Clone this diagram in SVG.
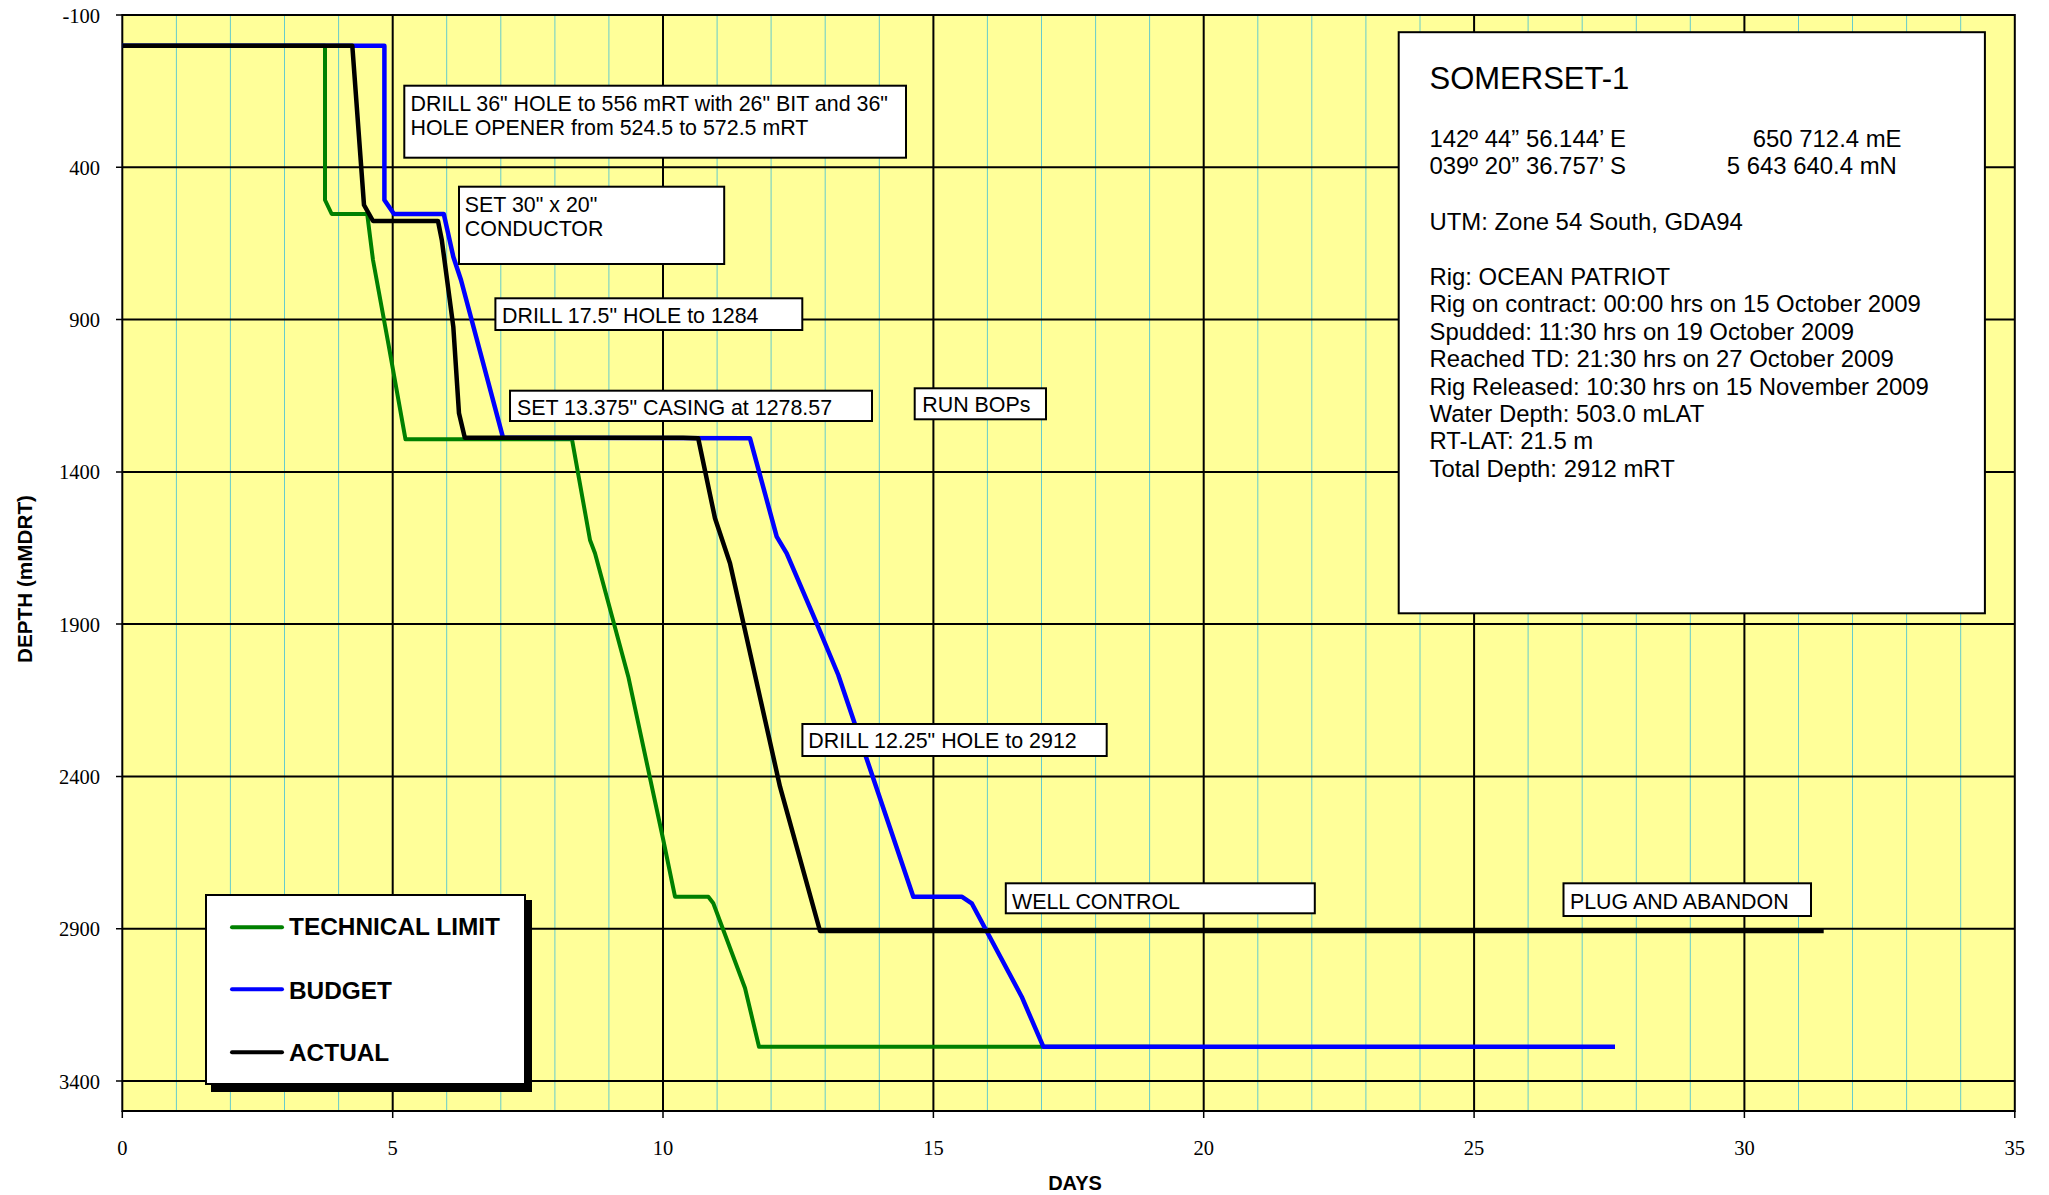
<svg xmlns="http://www.w3.org/2000/svg" width="2049" height="1195" viewBox="0 0 2049 1195">
<style>
.minor{stroke:#66cccc;stroke-width:1}
.major{stroke:#000;stroke-width:2}
.tick{stroke:#000;stroke-width:1.5}
.ylab{font-family:"Liberation Serif","Times New Roman",serif;font-size:20.5px;fill:#000;text-anchor:end}
.xlab{font-family:"Liberation Serif","Times New Roman",serif;font-size:20.5px;fill:#000;text-anchor:middle}
.title{font-family:"Liberation Sans",Arial,sans-serif;font-weight:bold;font-size:20px;fill:#000}
.box{fill:#fff;stroke:#000;stroke-width:2}
.lbl{font-family:"Liberation Sans",Arial,sans-serif;font-size:21.4px;fill:#000}
.info{font-family:"Liberation Sans",Arial,sans-serif;font-size:23.9px;fill:#000}
.big{font-size:31px}
.leg{font-family:"Liberation Sans",Arial,sans-serif;font-weight:bold;font-size:24.4px;fill:#000}
.curve{fill:none;stroke-linejoin:round;stroke-linecap:butt}
</style>
<rect width="2049" height="1195" fill="#fff"/>
<g id="plot-area">
<rect x="122.3" y="15" width="1892.5" height="1096" fill="#ffff99"/>
<g id="minor-grid">
<path class="minor" d="M176.4,15V1111M230.4,15V1111M284.5,15V1111M338.6,15V1111M446.7,15V1111M500.8,15V1111M554.9,15V1111M608.9,15V1111M717.1,15V1111M771.1,15V1111M825.2,15V1111M879.3,15V1111M987.4,15V1111M1041.5,15V1111M1095.6,15V1111M1149.6,15V1111M1257.8,15V1111M1311.8,15V1111M1365.9,15V1111M1420,15V1111M1528.1,15V1111M1582.2,15V1111M1636.3,15V1111M1690.3,15V1111M1798.5,15V1111M1852.5,15V1111M1906.6,15V1111M1960.7,15V1111"/>
</g>
<g id="major-grid">
<path class="major" d="M392.7,15V1111M663,15V1111M933.4,15V1111M1203.7,15V1111M1474.1,15V1111M1744.4,15V1111"/>
<path class="major" d="M122.3,167.3H2014.8M122.3,319.6H2014.8M122.3,471.9H2014.8M122.3,624.1H2014.8M122.3,776.4H2014.8M122.3,928.7H2014.8M122.3,1081H2014.8"/>
</g>
<rect x="122.3" y="15" width="1892.5" height="1096" fill="none" stroke="#000" stroke-width="2"/>
</g>
<g id="axes">
<path class="tick" d="M116,15H122.3M116,167.3H122.3M116,319.6H122.3M116,471.9H122.3M116,624.1H122.3M116,776.4H122.3M116,928.7H122.3M116,1081H122.3"/>
<path class="tick" d="M122.3,1111V1118M392.7,1111V1118M663,1111V1118M933.4,1111V1118M1203.7,1111V1118M1474.1,1111V1118M1744.4,1111V1118M2014.8,1111V1118"/>
<text class="ylab" x="100" y="22.5">-100</text>
<text class="ylab" x="100" y="174.8">400</text>
<text class="ylab" x="100" y="327.1">900</text>
<text class="ylab" x="100" y="479.4">1400</text>
<text class="ylab" x="100" y="631.6">1900</text>
<text class="ylab" x="100" y="783.9">2400</text>
<text class="ylab" x="100" y="936.2">2900</text>
<text class="ylab" x="100" y="1088.5">3400</text>
<text class="xlab" x="122.3" y="1155">0</text>
<text class="xlab" x="392.7" y="1155">5</text>
<text class="xlab" x="663" y="1155">10</text>
<text class="xlab" x="933.4" y="1155">15</text>
<text class="xlab" x="1203.7" y="1155">20</text>
<text class="xlab" x="1474.1" y="1155">25</text>
<text class="xlab" x="1744.4" y="1155">30</text>
<text class="xlab" x="2014.8" y="1155">35</text>
<text class="title" x="1075" y="1190" text-anchor="middle">DAYS</text>
<text class="title" transform="translate(32,579) rotate(-90)" text-anchor="middle" textLength="168" lengthAdjust="spacingAndGlyphs">DEPTH (mMDRT)</text>
</g>
<g id="connectors">
<path id="technical-limit" class="curve" stroke="#008000" stroke-width="4" d="M122.3,45.7 L325,45.7 L325,200 L331.7,214 L367.2,214 L373,260 L388.3,343.3 L405.5,439.3 L572,439.3 L590,540 L595,553.3 L628.3,676.7 L663.3,840 L675,896.7 L708.3,896.7 L713.3,903.3 L745,988 L759,1046.7 L1180,1046.7"/>
<path id="budget" class="curve" stroke="#0000ff" stroke-width="4.5" d="M122.3,45.7 L384.4,45.7 L384.4,200 L394,214 L443.8,214 L453.3,256.7 L461,280 L503,437.7 L750,438.3 L776.7,536.7 L786.7,553.3 L816.7,623.3 L838.3,675 L913.3,896.7 L961.7,896.7 L971.7,903.3 L1021.7,996.7 L1043.3,1046.7 L1615,1046.7" stroke-linecap="round"/>
<path id="actual" class="curve" stroke="#000" stroke-width="4.5" d="M122.3,45.7 L352.3,45.7 L364,205 L373,221 L438,221 L441.8,240 L453.3,326.7 L459,413.3 L464.8,437.7 L683,437.7 L698.2,438.3 L715,518.3 L730,563.3 L780,786.7 L820,931 L1823.7,931" stroke-linecap="round"/>
</g>
<g id="label-drill36">
<rect class="box" x="404.3" y="85.7" width="501.7" height="72"/>
<text class="lbl" x="410.5" y="110.7">DRILL 36" HOLE to 556 mRT with 26" BIT and 36"</text>
<text class="lbl" x="410.5" y="135">HOLE OPENER from 524.5 to 572.5 mRT</text>
</g>
<g id="label-set30">
<rect class="box" x="459" y="186.7" width="265.2" height="77.3"/>
<text class="lbl" x="464.8" y="211.7">SET 30" x 20"</text>
<text class="lbl" x="464.8" y="236">CONDUCTOR</text>
</g>
<g id="label-drill175">
<rect class="box" x="495.4" y="298.3" width="306.9" height="31.7"/>
<text class="lbl" x="502" y="323.3">DRILL 17.5" HOLE to 1284</text>
</g>
<g id="label-set13375">
<rect class="box" x="510" y="390.7" width="362" height="30.3"/>
<text class="lbl" x="516.9" y="415">SET 13.375" CASING at 1278.57</text>
</g>
<g id="label-runbops">
<rect class="box" x="914.7" y="388.3" width="131.3" height="31"/>
<text class="lbl" x="922.3" y="412.3">RUN BOPs</text>
</g>
<g id="label-drill1225">
<rect class="box" x="802.4" y="724" width="304.3" height="32"/>
<text class="lbl" x="808.3" y="748.3">DRILL 12.25" HOLE to 2912</text>
</g>
<g id="label-wellcontrol">
<rect class="box" x="1005.8" y="883.3" width="309" height="30"/>
<text class="lbl" x="1012" y="909">WELL CONTROL</text>
</g>
<g id="label-plug">
<rect class="box" x="1563.5" y="883.3" width="247.5" height="32.7"/>
<text class="lbl" x="1569.9" y="909">PLUG AND ABANDON</text>
</g>
<g id="info-box">
<rect class="box" x="1398.7" y="32.2" width="586.2" height="581.1"/>
<text class="info big" x="1429.5" y="89">SOMERSET-1</text>
<text class="info" x="1429.5" y="146.5">142º 44” 56.144’ E</text>
<text class="info" x="1752.8" y="146.5">650 712.4 mE</text>
<text class="info" x="1429.5" y="174">039º 20” 36.757’ S</text>
<text class="info" x="1726.8" y="174">5 643 640.4 mN</text>
<text class="info" x="1429.5" y="229.5">UTM: Zone 54 South, GDA94</text>
<text class="info" x="1429.5" y="285">Rig: OCEAN PATRIOT</text>
<text class="info" x="1429.5" y="312.4">Rig on contract: 00:00 hrs on 15 October 2009</text>
<text class="info" x="1429.5" y="339.8">Spudded: 11:30 hrs on 19 October 2009</text>
<text class="info" x="1429.5" y="367.2">Reached TD: 21:30 hrs on 27 October 2009</text>
<text class="info" x="1429.5" y="394.6">Rig Released: 10:30 hrs on 15 November 2009</text>
<text class="info" x="1429.5" y="422">Water Depth: 503.0 mLAT</text>
<text class="info" x="1429.5" y="449.4">RT-LAT: 21.5 m</text>
<text class="info" x="1429.5" y="476.8">Total Depth: 2912 mRT</text>
</g>
<g id="legend">
<rect x="211" y="900" width="321" height="192" fill="#000"/>
<rect class="box" x="206" y="895" width="319" height="189"/>
<path d="M232,927.3H282" stroke="#008000" stroke-width="4" stroke-linecap="round"/>
<path d="M232,989.3H282" stroke="#0000ff" stroke-width="4" stroke-linecap="round"/>
<path d="M232,1052.3H282" stroke="#000" stroke-width="4" stroke-linecap="round"/>
<text class="leg" x="289" y="935">TECHNICAL LIMIT</text>
<text class="leg" x="289" y="999">BUDGET</text>
<text class="leg" x="289" y="1061">ACTUAL</text>
</g>
</svg>
